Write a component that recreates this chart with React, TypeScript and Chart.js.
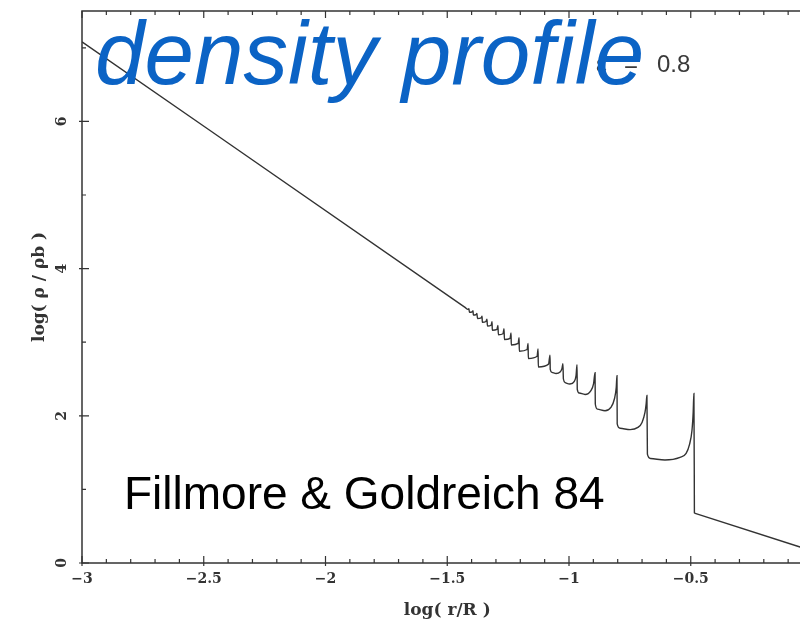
import React, { useEffect, useRef } from "react";
import { Chart, registerables } from "chart.js";

Chart.register(...registerables);

// log(r/R) values of the density curve (inner part, with caustics)
const logR = [
  -3.0, -1.427,
  -1.415, -1.411, -1.409, -1.398, -1.394, -1.393, -1.382, -1.378, -1.376, -1.361, -1.357,
  -1.356, -1.341, -1.337, -1.335, -1.320, -1.316, -1.315, -1.296, -1.292, -1.290, -1.271, -1.267,
  -1.265, -1.242, -1.238, -1.237, -1.209, -1.205, -1.204, -1.172, -1.168, -1.167, -1.131, -1.127,
  -1.126, -1.084, -1.078,
  -1.077, -1.070, -1.053, -1.037, -1.029, -1.025,
  -1.023, -1.015, -0.996, -0.979, -0.971, -0.967,
  -0.966, -0.958, -0.934, -0.910, -0.899, -0.893,
  -0.892, -0.883, -0.852, -0.828, -0.813, -0.806, -0.803,
  -0.802, -0.790, -0.749, -0.717, -0.700, -0.688, -0.683, -0.680,
  -0.678, -0.665, -0.606, -0.544, -0.519, -0.505, -0.495, -0.490, -0.487,
  -0.485,
];

// log(rho/rho_b) values of the density curve (inner part, with caustics)
const logRho = [
  7.08, 3.474,
  3.446, 3.455, 3.407, 3.413, 3.428, 3.369, 3.375, 3.390, 3.321, 3.329, 3.352,
  3.271, 3.281, 3.314, 3.220, 3.230, 3.277, 3.163, 3.175, 3.229, 3.102, 3.115, 3.182,
  3.037, 3.053, 3.126, 2.962, 2.983, 3.060, 2.878, 2.901, 2.984, 2.779, 2.809, 2.908,
  2.664, 2.702, 2.824,
  2.630, 2.590, 2.575, 2.594, 2.641, 2.709,
  2.500, 2.450, 2.432, 2.465, 2.546, 2.695,
  2.360, 2.310, 2.290, 2.343, 2.438, 2.587,
  2.160, 2.090, 2.068, 2.113, 2.235, 2.384, 2.546,
  1.890, 1.830, 1.812, 1.842, 1.910, 2.045, 2.167, 2.276,
  1.480, 1.420, 1.400, 1.436, 1.490, 1.612, 1.801, 2.045, 2.303,
  0.677,
];

// outer tail beyond the last caustic
const tailR = [-0.485, 0.0];
const tailRho = [0.677, 0.163];

const xTickValues = [-3, -2.5, -2, -1.5, -1, -0.5, 0];
const xTickLabels = ["\u22123", "\u22122.5", "\u22122", "\u22121.5", "\u22121", "\u22120.5", "0"];
const yTickValues = [0, 2, 4, 6];
const yTickLabels = ["0", "2", "4", "6"];

const titleText = "density profile";
const epsLabel = "\u03b5";
const eqLabel = "=";
const epsValue = "0.8";
const sourceText = "Fillmore & Goldreich 84";
const xTitle = "log( r/R )";
const yTitle = "log( \u03c1 / \u03c1b )";

const INK = "#333333";
const SERIF = '"DejaVu Serif", "Liberation Serif", serif';
const SANS = '"Liberation Sans", Arial, sans-serif';

const framePlugin = {
  id: "framePlugin",
  afterDatasetsDraw(chart: any) {
    const { ctx, chartArea } = chart;
    const { left, top, right, bottom } = chartArea;
    const xs = chart.scales.x;
    const ys = chart.scales.y;
    ctx.save();
    ctx.strokeStyle = INK;
    ctx.lineWidth = 1.5;
    ctx.strokeRect(left, top, right - left, bottom - top);
    ctx.lineWidth = 1.2;
    ctx.beginPath();
    for (let i = -30; i <= 0; i++) {
      const v = i / 10;
      const px = xs.getPixelForValue(v);
      const major = i % 5 === 0;
      const len = major ? 7 : 4;
      ctx.moveTo(px, bottom + (major ? 3 : 0));
      ctx.lineTo(px, bottom - len);
      ctx.moveTo(px, top);
      ctx.lineTo(px, top + len);
    }
    for (let v = 0; v <= 7; v++) {
      const py = ys.getPixelForValue(v);
      const major = v % 2 === 0;
      ctx.moveTo(left - (major ? 3 : 0), py);
      ctx.lineTo(left + (major ? 7 : 4), py);
    }
    ctx.stroke();

    // rotated y tick labels
    ctx.fillStyle = INK;
    ctx.font = `bold 14px ${SERIF}`;
    ctx.textAlign = "center";
    ctx.textBaseline = "middle";
    yTickValues.forEach((v, i) => {
      const py = ys.getPixelForValue(v);
      ctx.save();
      ctx.translate(62, py);
      ctx.rotate(-Math.PI / 2);
      ctx.fillText(yTickLabels[i], 0, 0);
      ctx.restore();
    });
    ctx.restore();
  },
  afterDraw(chart: any) {
    const { ctx } = chart;
    ctx.save();
    ctx.textAlign = "left";
    ctx.textBaseline = "alphabetic";
    ctx.fillStyle = "#3a3a3a";
    ctx.font = `24px ${SANS}`;
    ctx.fillText(epsLabel, 596, 72);
    ctx.fillText(eqLabel, 624, 72);
    ctx.fillText(epsValue, 657, 72);

    ctx.fillStyle = "#0b63c5";
    ctx.font = `italic 89px ${SANS}`;
    ctx.fillText(titleText, 95, 84);

    ctx.fillStyle = "#000000";
    ctx.font = `46px ${SANS}`;
    ctx.fillText(sourceText, 124, 509);
    ctx.restore();
  },
};

export default function App() {
  const canvasRef = useRef<HTMLCanvasElement | null>(null);

  useEffect(() => {
    const canvas = canvasRef.current;
    if (!canvas) return;
    const points = logR.map((x, i) => ({ x, y: logRho[i] }));
    const tail = tailR.map((x, i) => ({ x, y: tailRho[i] }));
    const chart = new Chart(canvas, {
      type: "scatter",
      data: {
        datasets: [
          {
            data: points,
            showLine: true,
            borderColor: INK,
            borderWidth: 1.4,
            pointRadius: 0,
            cubicInterpolationMode: "monotone",
            fill: false,
          },
          {
            data: tail,
            showLine: true,
            borderColor: INK,
            borderWidth: 1.4,
            pointRadius: 0,
            tension: 0,
            fill: false,
          },
        ],
      },
      options: {
        responsive: false,
        animation: false,
        devicePixelRatio: 1,
        layout: { padding: { left: 0, top: 11, right: 27.5, bottom: 0 } },
        plugins: { legend: { display: false }, tooltip: { enabled: false } },
        scales: {
          x: {
            type: "linear",
            position: "bottom",
            min: -3,
            max: 0,
            afterBuildTicks: (s: any) => {
              s.ticks = xTickValues.map((v) => ({ value: v }));
            },
            afterFit: (s: any) => {
              s.height = 60;
            },
            grid: { display: false, drawTicks: false },
            border: { display: false },
            ticks: {
              padding: 8,
              color: INK,
              font: { family: SERIF, size: 14, weight: "bold" },
              maxRotation: 0,
              autoSkip: false,
              callback: (value: any) => {
                const i = xTickValues.indexOf(Number(value));
                return i >= 0 ? xTickLabels[i] : "";
              },
            },
            title: {
              display: true,
              text: xTitle,
              color: INK,
              font: { family: SERIF, size: 17, weight: "bold" },
              padding: { top: 0, bottom: 2 },
            },
          },
          y: {
            type: "linear",
            position: "left",
            min: 0,
            max: 7.5,
            afterFit: (s: any) => {
              s.width = 82;
            },
            grid: { display: false, drawTicks: false },
            border: { display: false },
            ticks: { display: false },
            title: {
              display: true,
              text: yTitle,
              color: INK,
              font: { family: SERIF, size: 17, weight: "bold" },
              padding: { top: 29, bottom: 0 },
            },
          },
        },
      },
      plugins: [framePlugin],
    });
    return () => chart.destroy();
  }, []);

  return (
    <div
      style={{
        position: "fixed",
        left: 0,
        top: 0,
        width: 800,
        height: 623,
        overflow: "hidden",
        background: "#ffffff",
      }}
    >
      <canvas
        ref={canvasRef}
        width={840}
        height={623}
        style={{ display: "block", width: 840, height: 623 }}
      />
    </div>
  );
}
